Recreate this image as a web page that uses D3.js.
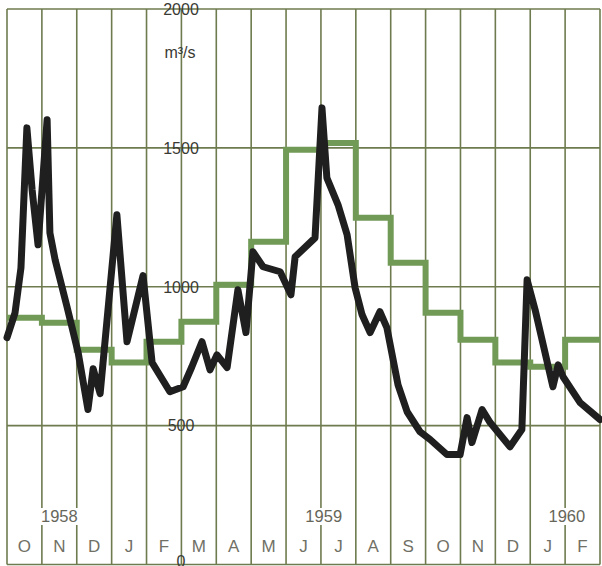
<!DOCTYPE html>
<html><head><meta charset="utf-8">
<script src="https://cdn.jsdelivr.net/npm/d3@7"></script>
<style>body{margin:0;background:#fff}svg{display:block}</style>
</head><body><svg id="c" width="602" height="566"></svg>
<script>
// ---- data ----
const months = ["O","N","D","J","F","M","A","M","J","J","A","S","O","N","D","J","F"];
const monthlyMean = [888,870,773,727,802,874,1007,1162,1493,1518,1248,1086,906,809,727,712,809];
// time in months since 1 Oct 1958, discharge in m3/s
const flowTime = [0,0.23,0.40,0.57,0.72,0.89,1.15,1.23,1.38,1.72,2.04,2.32,2.47,2.67,3.15,3.44,3.90,4.16,4.67,5.05,5.30,5.59,5.82,6.02,6.31,6.62,6.85,7.05,7.34,7.83,8.14,8.26,8.83,9.03,9.17,9.49,9.75,9.98,10.18,10.41,10.69,10.89,11.21,11.47,11.84,12.13,12.61,12.99,13.19,13.33,13.62,13.85,14.42,14.76,14.91,15.14,15.65,15.80,15.94,16.43,17.0];
const flowValue = [817,906,1068,1572,1349,1151,1601,1194,1097,928,763,558,705,615,1259,802,1040,727,622,640,712,802,701,755,709,989,835,1126,1072,1054,971,1108,1176,1644,1392,1295,1187,996,899,835,910,853,647,550,478,450,396,396,529,439,558,511,424,486,1025,917,640,719,676,583,522];
const yTicks = [0,500,1000,1500,2000];
const years = ["1958","1959","1960"];
const yearPos = [1.5, 9.08, 16.05];
const unitLabel = "m³/s";

// ---- chart ----
const svg = d3.select("#c");
const x = d3.scaleLinear().domain([0, months.length]).range([7, 600]);
const y = d3.scaleLinear().domain([0, 2000]).range([564.5, 9]);
const gridColor = "#6e7b4e";
const font = "'Liberation Sans', Arial, Helvetica, sans-serif";

const grid = svg.append("g").attr("stroke", gridColor).attr("stroke-width", 1.6);
d3.range(0, months.length + 1).forEach(i => {
  grid.append("line").attr("x1", x(i)).attr("x2", x(i)).attr("y1", y(2000)).attr("y2", y(0));
});
yTicks.forEach(t => {
  grid.append("line").attr("x1", x(0)).attr("x2", x(months.length)).attr("y1", y(t)).attr("y2", y(t));
});

// monthly mean step line
const stepData = monthlyMean.map((v, i) => [i, v]).concat([[months.length, monthlyMean[monthlyMean.length - 1]]]);
svg.append("path")
  .datum(stepData)
  .attr("fill", "none")
  .attr("stroke", "#719a57")
  .attr("stroke-width", 6)
  .attr("d", d3.line().x(d => x(d[0])).y(d => y(d[1])).curve(d3.curveStepAfter));

// daily discharge line
svg.append("path")
  .datum(flowTime.map((t, i) => [t, flowValue[i]]))
  .attr("fill", "none")
  .attr("stroke", "#1f1f1f")
  .attr("stroke-width", 7)
  .attr("stroke-linejoin", "round")
  .attr("stroke-linecap", "round")
  .attr("d", d3.line().x(d => x(d[0])).y(d => y(d[1])));

// y labels
const yl = svg.append("g").attr("font-family", font).attr("font-size", 16).attr("fill", "#3a3a34").attr("text-anchor", "middle");
yTicks.forEach(t => {
  yl.append("text").attr("x", 181).attr("y", t === 0 ? y(t) - 3 : y(t)).attr("dy", "0.36em").text(t);
});
yl.append("text").attr("x", 180).attr("y", 58).attr("font-size", 16).text(unitLabel);

// month labels
const ml = svg.append("g").attr("font-family", font).attr("font-size", 17).attr("fill", "#707066").attr("text-anchor", "middle");
months.forEach((m, i) => {
  ml.append("text").attr("x", x(i + 0.5)).attr("y", 552).text(m);
});

// year labels with white knock-out
const yg = svg.append("g");
years.forEach((yr, i) => {
  const g = yg.append("g");
  const r = g.append("rect").attr("fill", "#fff");
  const tx = g.append("text").attr("x", x(yearPos[i])).attr("y", 522)
    .attr("font-family", font).attr("font-size", 16.5).attr("fill", "#66665a")
    .attr("text-anchor", "middle").text(yr);
  const b = tx.node().getBBox();
  r.attr("x", b.x - 1).attr("y", b.y + 1).attr("width", b.width + 2).attr("height", b.height - 1);
});
</script>
</body></html>
